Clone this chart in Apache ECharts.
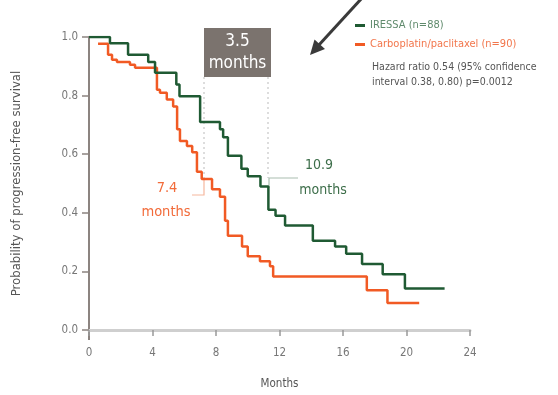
<!DOCTYPE html>
<html><head><meta charset="utf-8">
<script src="https://cdn.jsdelivr.net/npm/echarts@6/dist/echarts.min.js"></script>
<style>html,body{margin:0;padding:0;background:#fff}#c{width:558px;height:395px}</style>
</head><body><div id="c"></div>
<script>
// Months at which each step occurs and the survival probability after it
const iressaT = [0, 1.32, 2.46, 3.73, 4.16, 5.5, 5.7, 7.0, 8.25, 8.45, 8.75, 9.6, 10.0, 10.8, 11.3, 11.75, 12.35, 14.1, 15.5, 16.2, 17.2, 18.5, 19.9, 22.4];
const iressaP = [1.0, 0.979, 0.939, 0.915, 0.878, 0.838, 0.798, 0.71, 0.685, 0.658, 0.595, 0.55, 0.525, 0.49, 0.41, 0.39, 0.357, 0.305, 0.285, 0.26, 0.225, 0.19, 0.142, 0.142];
const carboT = [0.57, 1.2, 1.45, 1.76, 2.58, 2.9, 4.28, 4.47, 4.9, 5.3, 5.55, 5.73, 6.17, 6.5, 6.8, 7.1, 7.75, 8.25, 8.57, 8.75, 9.64, 10.0, 10.77, 11.4, 11.6, 17.5, 18.8, 20.8];
const carboP = [0.977, 0.939, 0.922, 0.915, 0.905, 0.895, 0.82, 0.81, 0.787, 0.763, 0.685, 0.645, 0.628, 0.607, 0.54, 0.515, 0.48, 0.455, 0.373, 0.322, 0.285, 0.252, 0.235, 0.218, 0.183, 0.136, 0.092, 0.092];
const xTicks = [0, 4, 8, 12, 16, 20, 24];
const yTicks = [0.0, 0.2, 0.4, 0.6, 0.8, 1.0];
const seriesNames = ['IRESSA (n=88)', 'Carboplatin/paclitaxel (n=90)'];

const FONT = "'Liberation Sans Narrow','DejaVu Sans Condensed',sans-serif";
const GREEN = '#1f5a33', ORANGE = '#f15a24';
const zip = (a, b) => a.map((v, i) => [v, b[i]]);

const chart = echarts.init(document.getElementById('c'), null, {renderer: 'canvas'});
chart.setOption({
  animation: false,
  backgroundColor: '#fff',
  grid: {left: 89, right: 88, top: 37, bottom: 62.5, containLabel: false},
  xAxis: {
    type: 'value', min: xTicks[0], max: xTicks[xTicks.length - 1], interval: 4,
    name: 'Months', nameLocation: 'middle', nameGap: 48,
    nameTextStyle: {fontFamily: FONT, fontSize: 11.5, color: '#555'},
    axisLine: {show: true, lineStyle: {color: '#cfcfcf', width: 3}},
    axisTick: {show: true, length: 6, lineStyle: {color: '#999', width: 1.5}},
    axisLabel: {fontFamily: FONT, fontSize: 11.5, color: '#777', margin: 17},
    splitLine: {show: false}
  },
  yAxis: {
    type: 'value', min: yTicks[0], max: yTicks[yTicks.length - 1], interval: 0.2,
    name: 'Probability of progression-free survival', nameLocation: 'middle', nameGap: 66,
    nameTextStyle: {fontFamily: FONT, fontSize: 13, color: '#555'},
    axisLine: {show: true, lineStyle: {color: '#8c8480', width: 2}},
    axisTick: {show: true, length: 7, lineStyle: {color: '#8c8480', width: 1.5}},
    axisLabel: {fontFamily: FONT, fontSize: 11.5, color: '#777', margin: 11, formatter: v => v.toFixed(1)},
    splitLine: {show: false}
  },
  legend: {
    orient: 'vertical', left: 350, top: 15, itemWidth: 10, itemHeight: 3, itemGap: 8,
    icon: 'rect', selectedMode: false,
    textStyle: {fontFamily: FONT, fontSize: 11},
    data: [
      {name: seriesNames[0], textStyle: {color: '#5f8a6c'}},
      {name: seriesNames[1], textStyle: {color: '#f2764c'}}
    ]
  },
  series: [
    {name: seriesNames[0], type: 'line', step: 'end', symbol: 'none', color: GREEN,
     lineStyle: {color: GREEN, width: 2.5}, data: zip(iressaT, iressaP), z: 3},
    {name: seriesNames[1], type: 'line', step: 'end', symbol: 'none', color: ORANGE,
     lineStyle: {color: ORANGE, width: 2.5}, data: zip(carboT, carboP), z: 2}
  ],
  graphic: [
    {type: 'line', shape: {x1: 89, y1: 332, x2: 89, y2: 340}, style: {stroke: '#8c8480', lineWidth: 2}},
    {type: 'rect', shape: {x: 204, y: 28, width: 67, height: 49}, style: {fill: '#7b736e'}},
    {type: 'text', x: 237.5, y: 42, style: {text: '3.5', fill: '#fff', font: '17px ' + FONT, textAlign: 'center', textVerticalAlign: 'middle'}},
    {type: 'text', x: 237.5, y: 64, style: {text: 'months', fill: '#fff', font: '17px ' + FONT, textAlign: 'center', textVerticalAlign: 'middle'}},
    {type: 'line', shape: {x1: 204, y1: 77, x2: 204, y2: 180}, style: {stroke: '#bbb', lineWidth: 1, lineDash: [2, 3]}},
    {type: 'line', shape: {x1: 268, y1: 77, x2: 268, y2: 178}, style: {stroke: '#bbb', lineWidth: 1, lineDash: [2, 3]}},
    {type: 'polyline', shape: {points: [[204, 180], [204, 195], [192, 195]]}, style: {stroke: '#f6b79e', lineWidth: 1.2, fill: null}},
    {type: 'text', x: 167, y: 188, style: {text: '7.4', fill: '#f26b3a', font: '14.5px ' + FONT, textAlign: 'center', textVerticalAlign: 'middle'}},
    {type: 'text', x: 166, y: 212, style: {text: 'months', fill: '#f26b3a', font: '14.5px ' + FONT, textAlign: 'center', textVerticalAlign: 'middle'}},
    {type: 'polyline', shape: {points: [[269, 188], [269, 178], [298, 178]]}, style: {stroke: '#a9beb0', lineWidth: 1.2, fill: null}},
    {type: 'text', x: 319, y: 165, style: {text: '10.9', fill: '#3d6e4a', font: '14px ' + FONT, textAlign: 'center', textVerticalAlign: 'middle'}},
    {type: 'text', x: 323, y: 190, style: {text: 'months', fill: '#3d6e4a', font: '14px ' + FONT, textAlign: 'center', textVerticalAlign: 'middle'}},
    {type: 'line', shape: {x1: 362, y1: -2, x2: 318, y2: 46}, style: {stroke: '#3a3a3a', lineWidth: 3}},
    {type: 'polygon', shape: {points: [[310, 55], [325, 49], [314.5, 39.5]]}, style: {fill: '#3a3a3a'}},
    {type: 'text', x: 372, y: 67, style: {text: 'Hazard ratio 0.54 (95% confidence', fill: '#555', font: '10.5px ' + FONT, textVerticalAlign: 'middle'}},
    {type: 'text', x: 372, y: 82, style: {text: 'interval 0.38, 0.80) p=0.0012', fill: '#555', font: '10.5px ' + FONT, textVerticalAlign: 'middle'}}
  ]
});
</script></body></html>
